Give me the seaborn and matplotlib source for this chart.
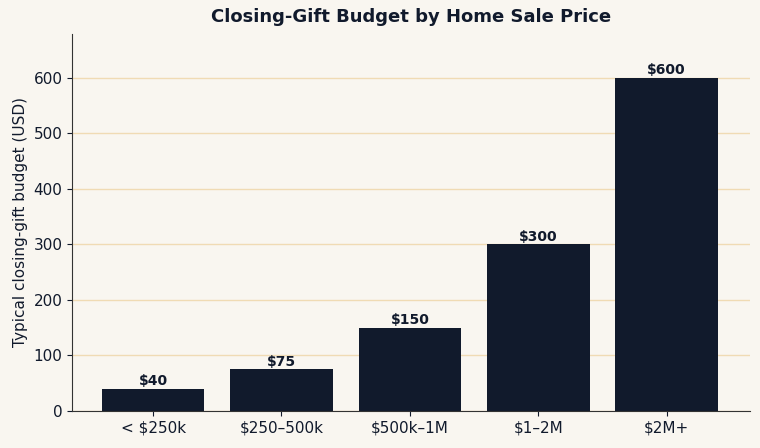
import seaborn as sns
import matplotlib.pyplot as plt
import pandas as pd

categories = ["< $250k", "$250–500k", "$500k–1M", "$1–2M", "$2M+"]
budgets = [40, 75, 150, 300, 600]

df = pd.DataFrame({"price": categories, "budget": budgets})

bg = "#f9f6f0"
navy = "#111a2c"
plt.rcParams["font.family"] = ["DejaVu Sans"]

fig, ax = plt.subplots(figsize=(7.6, 4.48), dpi=100)
fig.patch.set_facecolor(bg)
ax.set_facecolor(bg)

sns.barplot(data=df, x="price", y="budget", color=navy, width=0.8, ax=ax, saturation=1)

for i, v in enumerate(budgets):
    ax.text(i, v + 1, f"${v}", ha="center", va="bottom", fontsize=10,
            fontweight="bold", color=navy)

ax.set_xlim(-0.63, 4.65)
ax.set_ylim(0, 680)
ax.set_yticks(range(0, 700, 100))
ax.yaxis.grid(True, color="#f0dbb4", linewidth=1)
ax.set_axisbelow(True)
ax.set_xlabel("")
ax.set_ylabel("Typical closing-gift budget (USD)", fontsize=11, color=navy)
ax.set_title("Closing-Gift Budget by Home Sale Price", fontsize=13,
             fontweight="bold", color=navy, pad=8)
ax.tick_params(labelsize=11, colors=navy)
for s in ["top", "right"]:
    ax.spines[s].set_visible(False)
for s in ["left", "bottom"]:
    ax.spines[s].set_color("#333333")

fig.subplots_adjust(left=0.095, right=0.987, top=0.925, bottom=0.083)
fig.savefig("out.png", facecolor=bg)
